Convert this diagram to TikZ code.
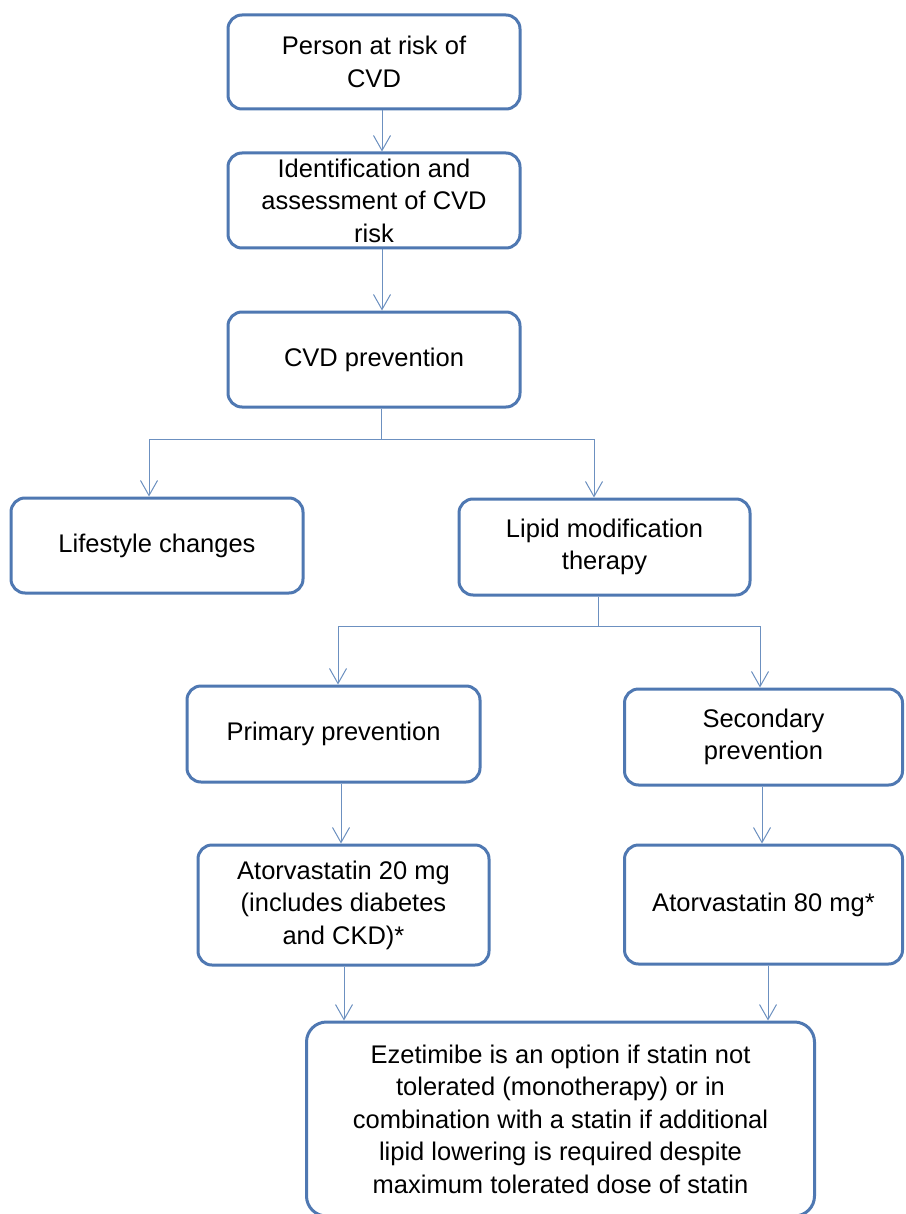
\documentclass[tikz,border=0pt]{standalone}
\usepackage{fontspec}
\setmainfont{Liberation Sans}
\usetikzlibrary{arrows.meta}
\definecolor{boxblue}{RGB}{79,120,178}
\definecolor{linkblue}{RGB}{108,144,192}
\tikzset{
  box/.style={draw=boxblue, line width=3pt, rounded corners=14pt, fill=white,
    align=center, inner sep=0pt, font=\fontsize{25.5}{32.5}\selectfont},
  link/.style={draw=linkblue, line width=1pt,
    -{Straight Barb[length=15pt,width=17pt,line width=1pt]}},
  plain/.style={draw=linkblue, line width=1pt}
}

\begin{document}
\begin{tikzpicture}[x=1pt,y=-1pt]
			%%%%% START %%%%%
			
			\fill[white] (0,0) rectangle (905,1214);
			\useasboundingbox (0,0) rectangle (905,1214);
			
			\node[box, minimum width=292, minimum height=94] (person) at (374, 62) {Person at risk of\\CVD};
			\node[box, minimum width=292, minimum height=95] (ident) at (374, 200.5) {Identification and\\assessment of CVD\\risk};
			\node[box, minimum width=292, minimum height=95] (cvd) at (374, 359.5) {CVD prevention};
			
			\node[box, minimum width=292, minimum height=95] (life) at (157, 545.5) {Lifestyle changes};
			\node[box, minimum width=291, minimum height=96] (lipid) at (604.5, 547) {Lipid modification\\therapy};
			
			\node[box, minimum width=293, minimum height=96] (primary) at (333.5, 734) {Primary prevention};
			\node[box, minimum width=278, minimum height=96] (secondary) at (763.5, 737) {Secondary\\prevention};
			
			\node[box, minimum width=291, minimum height=120] (ator20) at (343.5, 905) {Atorvastatin 20 mg\\(includes diabetes\\and CKD)*};
			\node[box, minimum width=278, minimum height=119] (ator80) at (763.5, 904.5) {Atorvastatin 80 mg*};
			
			\node[box, minimum width=508, minimum height=194, rounded corners=20pt] (eze) at (560.5, 1119) {Ezetimibe is an option if statin not\\tolerated (monotherapy) or in\\combination with a statin if additional\\lipid lowering is required despite\\maximum tolerated dose of statin};
			
			\draw[link] ([xshift=8pt]person.south) -- ([xshift=8pt]ident.north);
			\draw[link] ([xshift=8pt]ident.south) -- ([xshift=8pt]cvd.north);
			
			\coordinate (split1) at (381, 439);
			\draw[plain] ([xshift=7pt]cvd.south) -- (split1);
			\draw[link] (split1) -| ([xshift=-8pt]life.north);
			\draw[link] (split1) -| ([xshift=-10.5pt]lipid.north);
			
			\coordinate (split2) at (598, 626);
			\draw[plain] ([xshift=-6.5pt]lipid.south) -- (split2);
			\draw[link] (split2) -| ([xshift=4.5pt]primary.north);
			\draw[link] (split2) -| ([xshift=-3.5pt]secondary.north);
			
			\draw[link] ([xshift=7.5pt]primary.south) -- ([xshift=-2.5pt]ator20.north);
			\draw[link] ([xshift=-1.5pt]secondary.south) -- ([xshift=-1.5pt]ator80.north);
			
			\draw[link] ([xshift=.5pt]ator20.south) -- ([xshift=.5pt]ator20.south |- eze.north);
			\draw[link] ([xshift=4.5pt]ator80.south) -- ([xshift=4.5pt]ator80.south |- eze.north);
			
			%%%%% END %%%%%
		\end{tikzpicture}
\end{document}
